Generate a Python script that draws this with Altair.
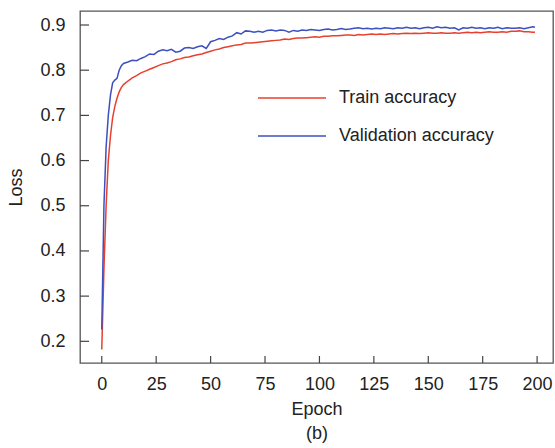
import altair as alt
import pandas as pd

# Epochs sampled for the curves
epochs = list(range(0, 11)) + list(range(12, 199, 2)) + [199]

train_acc = [
    0.182, 0.360, 0.500, 0.600, 0.655, 0.695, 0.720, 0.738, 0.752, 0.762, 0.768,
    0.776, 0.783, 0.788, 0.794, 0.798, 0.802, 0.806, 0.810, 0.814, 0.816,
    0.819, 0.823, 0.825, 0.828, 0.829, 0.832, 0.834, 0.836, 0.839, 0.842,
    0.845, 0.847, 0.850, 0.852, 0.854, 0.856, 0.857, 0.860, 0.860, 0.861,
    0.862, 0.863, 0.864, 0.865, 0.866, 0.867, 0.869, 0.868, 0.870, 0.871,
    0.871, 0.872, 0.873, 0.874, 0.873, 0.875, 0.875, 0.876, 0.876, 0.877,
    0.878, 0.878, 0.877, 0.879, 0.878, 0.879, 0.880, 0.879, 0.880, 0.879,
    0.880, 0.881, 0.880, 0.881, 0.882, 0.881, 0.882, 0.881, 0.882, 0.883,
    0.882, 0.882, 0.883, 0.882, 0.882, 0.883, 0.882, 0.883, 0.884, 0.883,
    0.884, 0.883, 0.884, 0.885, 0.884, 0.884, 0.885, 0.884, 0.886, 0.886,
    0.887, 0.885, 0.885, 0.884, 0.884,
]

val_acc = [
    0.226, 0.500, 0.630, 0.700, 0.745, 0.772, 0.778, 0.782, 0.800, 0.810, 0.815,
    0.818, 0.822, 0.821, 0.826, 0.830, 0.836, 0.835, 0.842, 0.845, 0.843,
    0.846, 0.840, 0.842, 0.849, 0.850, 0.848, 0.852, 0.854, 0.848, 0.863,
    0.866, 0.870, 0.868, 0.873, 0.876, 0.883, 0.880, 0.887, 0.886, 0.884,
    0.886, 0.884, 0.888, 0.889, 0.887, 0.889, 0.888, 0.884, 0.888, 0.886,
    0.889, 0.888, 0.890, 0.889, 0.888, 0.890, 0.891, 0.889, 0.890, 0.892,
    0.890, 0.891, 0.893, 0.894, 0.892, 0.893, 0.891, 0.893, 0.892, 0.894,
    0.893, 0.892, 0.894, 0.893, 0.895, 0.893, 0.894, 0.892, 0.894, 0.895,
    0.893, 0.896, 0.894, 0.895, 0.893, 0.894, 0.889, 0.894, 0.893, 0.895,
    0.893, 0.894, 0.892, 0.894, 0.893, 0.895, 0.892, 0.894, 0.893, 0.893,
    0.894, 0.892, 0.894, 0.896, 0.895,
]

series_names = ["Train accuracy", "Validation accuracy"]
series_colors = ["#e8402f", "#3c50c0"]

x_ticks = [0, 25, 50, 75, 100, 125, 150, 175, 200]
y_ticks = [0.2, 0.3, 0.4, 0.5, 0.6, 0.7, 0.8, 0.9]

x_domain = [-10, 207.3]
y_domain = [0.152, 0.931]

W, H = 473, 352
FONT = "Liberation Sans"

df = pd.concat([
    pd.DataFrame({"epoch": epochs, "acc": train_acc, "series": series_names[0]}),
    pd.DataFrame({"epoch": epochs, "acc": val_acc, "series": series_names[1]}),
])

x_scale = alt.Scale(domain=x_domain, nice=False, zero=False)
y_scale = alt.Scale(domain=y_domain, nice=False, zero=False)

lines = alt.Chart(df).mark_line(strokeWidth=1.5).encode(
    x=alt.X("epoch:Q", scale=x_scale,
            axis=alt.Axis(values=x_ticks, title=["Epoch", "(b)"], ticks=False,
                          domain=False, grid=False, labelPadding=12,
                          titlePadding=7, titleLineHeight=24)),
    y=alt.Y("acc:Q", scale=y_scale,
            axis=alt.Axis(values=y_ticks, title="Loss", ticks=False, domain=False,
                          grid=False, labelPadding=15, titlePadding=14,
                          format=".1f")),
    color=alt.Color("series:N",
                    scale=alt.Scale(domain=series_names, range=series_colors),
                    legend=alt.Legend(title=None, orient="none",
                                      legendX=177, legendY=78,
                                      symbolType="stroke", symbolSize=4624,
                                      symbolStrokeWidth=1.5, labelOffset=12,
                                      clipHeight=18, rowPadding=20, padding=0,
                                      labelFontSize=18, labelFont=FONT,
                                      labelColor="#222")),
)

# Inward tick marks on both axes
xt = alt.Chart(pd.DataFrame({"t": x_ticks})).mark_rule(color="#444", strokeWidth=1.2).encode(
    x=alt.X("t:Q", scale=x_scale), y=alt.value(H), y2=alt.value(H - 7))
yt = alt.Chart(pd.DataFrame({"t": y_ticks})).mark_rule(color="#444", strokeWidth=1.2).encode(
    y=alt.Y("t:Q", scale=y_scale), x=alt.value(0), x2=alt.value(9))

chart = alt.layer(lines, xt, yt).properties(
    width=W, height=H,
    autosize=alt.AutoSizeParams(type="none"),
    padding={"left": 80, "top": 11, "right": 2, "bottom": 85},
).configure_view(
    stroke="#555", strokeWidth=1.3
).configure_axis(
    labelFont=FONT, titleFont=FONT, labelFontSize=18, titleFontSize=18,
    titleFontWeight="normal", labelColor="#222", titleColor="#222",
)

chart.save("out.html", embed_options={"renderer": "svg", "actions": False})
